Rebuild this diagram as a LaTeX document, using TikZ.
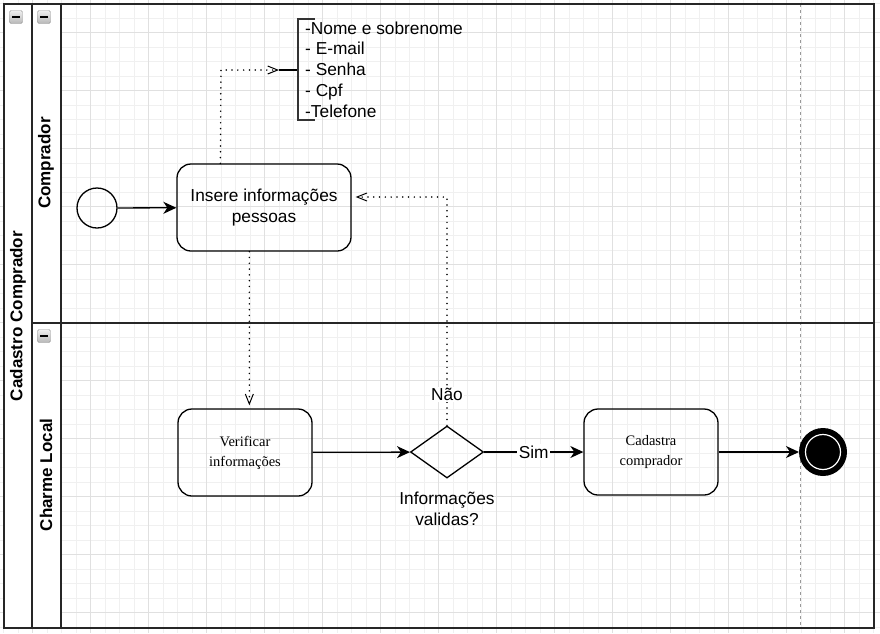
\documentclass[tikz,border=0pt]{standalone}
\usepackage{fontspec}
\setmainfont{Liberation Sans}
\newfontfamily\serifface{Liberation Serif}
\usetikzlibrary{arrows.meta,shapes.geometric,calc}

\begin{document}
\begin{tikzpicture}[x=1pt,y=-1pt,
  minorgrid/.style={line width=0.6pt, draw=black!6},
  majorgrid/.style={line width=0.6pt, draw=black!12},
  poolline/.style={line width=1.8pt, draw=black!85},
  task/.style={draw, line width=1.3pt, rounded corners=14pt, align=center,
    inner sep=0pt, font=\fontsize{17.3}{21}\selectfont},
  servicetask/.style={task, font=\serifface\fontsize{14.5}{20}\selectfont},
  flowline/.style={line width=1.3pt, -{Stealth[length=13pt,width=12pt,inset=4pt]}},
  msgline/.style={line width=1.7pt, line cap=round, dash pattern=on 0pt off 5.8pt,
    -{Straight Barb[length=10pt,width=8pt,line width=1pt]}},
  lbl/.style={fill=white, inner sep=1.5pt, font=\fontsize{17.3}{20}\selectfont},
  lanelabel/.style={rotate=90, font=\bfseries\fontsize{17}{20}\selectfont},
  minusbox/.style={draw=black!40, rounded corners=1.5pt, top color=black!6,
    bottom color=black!28, minimum size=13pt, inner sep=0pt}]

\useasboundingbox (0,0) rectangle (880,633);
\fill[white] (0,0) rectangle (880,633);

% background grid
\foreach \g in {3.5,18,...,880} {
  \draw[minorgrid] (\g,0) -- (\g,633);
  \draw[minorgrid] (0,\g) -- (880,\g);
}
\foreach \g in {32.5,90.5,...,880} {
  \draw[majorgrid] (\g,0) -- (\g,633);
  \draw[majorgrid] (0,\g) -- (880,\g);
}

% pool and lanes
\fill[white] (4,4) rectangle (61,628);
\draw[black!40, line width=0.8pt, dash pattern=on 3pt off 3pt] (800,4) -- (800,628);
\draw[poolline] (32,4) -- (32,628);
\draw[poolline] (61,4) -- (61,628);
\draw[poolline] (32,323) -- (874,323);
\draw[poolline] (4,4) rectangle (874,628);

\node[lanelabel] (pool) at (18,316) {Cadastro Comprador};
\node[lanelabel] (lane1) at (46,163) {Comprador};
\node[lanelabel] (lane2) at (46,475) {Charme Local};

\foreach \n/\p in {m1/{(16,17)}, m2/{(44,17)}, m3/{(44,336)}} {
  \node[minusbox] (\n) at \p {};
  \draw[line width=1.5pt] ([xshift=-4pt]\n.center) -- ([xshift=4pt]\n.center);
}

% flow elements
\node[circle, draw, line width=1.3pt, minimum size=40pt, inner sep=0pt] (start) at (97,208) {};
\node[task, minimum width=174pt, minimum height=87pt] (insere) at (264,207.5) {Insere informações\\pessoas};
\node[servicetask, minimum width=134pt, minimum height=87pt] (verif) at (245,452.5) {Verificar\\informações};
\node[diamond, draw, line width=1.3pt, minimum width=73pt, minimum height=52pt, inner sep=0pt] (gate) at (447,452) {};
\node[align=center, font=\fontsize{17.3}{21}\selectfont] (gatetext) at (447,508.5) {Informações\\validas?};
\node[servicetask, minimum width=134pt, minimum height=86pt] (cad) at (651,452) {Cadastra\\comprador};
\node[circle, draw, fill=black, line width=4pt, minimum size=44pt, inner sep=0pt] (end) at (823,452) {};
\draw[white, line width=1.2pt] (end.center) circle[radius=17.5pt];

% annotation
\node[anchor=west, align=left, inner sep=0pt, font=\fontsize{17.3}{20.7}\selectfont] (note) at (305,69.5)
  {-Nome e sobrenome\\- E-mail\\- Senha\\- Cpf\\-Telefone};
\coordinate (notestub) at (279,70);
\coordinate (notebar) at (298,70);
\draw[line width=1.3pt] (notestub) -- (notebar);
\draw[line width=1.6pt, black!80] (315,19) -- (298,19) -- (298,120) -- (315,120);

% sequence flows
\draw[flowline] (start) -- (insere);
\draw[flowline] (verif) -- (gate);
\draw[flowline] (gate) -- node[lbl] (sim) {Sim} (cad);
\draw[flowline] (cad) -- (end);

% dotted flows
\coordinate (notecorner) at (221,70);
\draw[msgline] ([xshift=44pt]insere.north west) -- (notecorner) -- (notestub);
\draw[msgline, shorten >=3pt] ([xshift=73pt]insere.south west) -- ([xshift=72pt]verif.north west);
\coordinate (naoturn) at (447,197);
\draw[msgline, shorten >=4pt] (gate.north) -- node[lbl, pos=0.135] (nao) {Não} (naoturn) -- ($(insere.east)+(0,-10.5)$);

\end{tikzpicture}
\end{document}
